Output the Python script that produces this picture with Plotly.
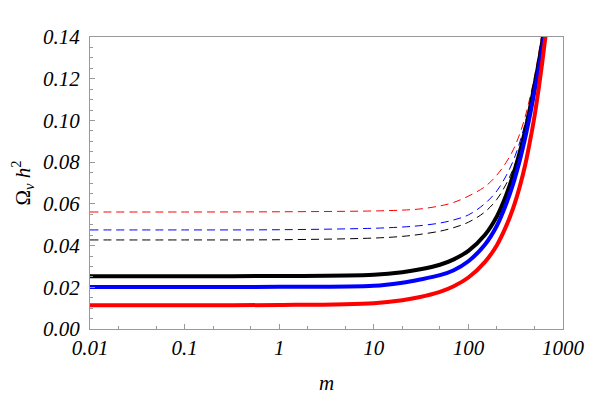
import plotly.graph_objects as go

# m values (log axis) and Omega_nu h^2
m = [0.01, 0.1, 1, 10, 20, 30, 50, 70, 100, 150, 200, 250, 300, 350, 400, 450, 500, 550, 600, 660]

red_solid = [0.0114, 0.0114, 0.0115, 0.0124, 0.0138, 0.0152, 0.0178, 0.0205, 0.0247, 0.0322,
             0.0402, 0.0492, 0.0585, 0.0685, 0.0790, 0.0905, 0.1020, 0.1145, 0.1270, 0.1420]
blue_solid = [0.0201, 0.0201, 0.0202, 0.0207, 0.0222, 0.0236, 0.0258, 0.0282, 0.0325, 0.0405,
              0.0495, 0.0598, 0.0702, 0.0810, 0.0920, 0.1030, 0.1140, 0.1240, 0.1340, 0.1460]
black_solid = [0.0253, 0.0253, 0.0254, 0.0260, 0.0272, 0.0285, 0.0308, 0.0334, 0.0375, 0.0452,
               0.0540, 0.0640, 0.0745, 0.0850, 0.0955, 0.1062, 0.1170, 0.1270, 0.1370, 0.1490]
red_dash = [0.0561, 0.0561, 0.0562, 0.0566, 0.0570, 0.0575, 0.0590, 0.0607, 0.0637, 0.0683,
            0.0738, 0.0798, 0.0862, 0.0937, 0.1020, 0.1115, 0.1210, 0.1315, 0.1420, 0.1550]
blue_dash = [0.0475, 0.0475, 0.0476, 0.0483, 0.0489, 0.0495, 0.0508, 0.0523, 0.0547, 0.0602,
             0.0662, 0.0734, 0.0810, 0.0897, 0.0990, 0.1090, 0.1190, 0.1290, 0.1390, 0.1520]
black_dash = [0.0427, 0.0427, 0.0428, 0.0436, 0.0444, 0.0453, 0.0469, 0.0486, 0.0512, 0.0562,
              0.0622, 0.0694, 0.0772, 0.0857, 0.0950, 0.1050, 0.1150, 0.1255, 0.1360, 0.1490]

x_ticks = [0.01, 0.1, 1, 10, 100, 1000]
x_labels = ["0.01", "0.1", "1", "10", "100", "1000"]
y_ticks = [0, 0.02, 0.04, 0.06, 0.08, 0.10, 0.12, 0.14]

SERIF = "Liberation Serif"

fig = go.Figure()

for ys, col in [(red_dash, "#ff0000"), (blue_dash, "#0000ff"), (black_dash, "#000000")]:
    fig.add_trace(go.Scatter(x=m, y=ys, mode="lines",
                             line=dict(color=col, width=1, dash="8px,5px", shape="spline", smoothing=1)))

for ys, col in [(black_solid, "#000000"), (blue_solid, "#0000ff"), (red_solid, "#ff0000")]:
    fig.add_trace(go.Scatter(x=m, y=ys, mode="lines",
                             line=dict(color=col, width=4, shape="spline", smoothing=1)))

tick_font = dict(family=SERIF, size=21, color="black")

# page body adds an 8px offset, margins compensate for it
fig.update_layout(
    width=599, height=396,
    margin=dict(l=82, r=44, t=29, b=75),
    paper_bgcolor="white", plot_bgcolor="white",
    showlegend=False,
    font=dict(family=SERIF, color="black"),
    xaxis=dict(
        type="log", range=[-2, 3], automargin=False,
        tickvals=x_ticks, ticktext=["<i>%s</i>" % t for t in x_labels],
        tickfont=tick_font,
        ticks="inside", ticklen=5, tickcolor="#999", tickwidth=1,
        minor=dict(ticks="inside", ticklen=3, tickcolor="#999", showgrid=False),
        showgrid=False, zeroline=False,
        showline=True, linecolor="#999", linewidth=1, mirror=True,
        title=dict(text="<i>m</i>", font=dict(family=SERIF, size=21, color="black"), standoff=16),
    ),
    yaxis=dict(
        range=[0, 0.14], automargin=False,
        tickvals=y_ticks,
        ticktext=["<i>%.2f</i>" % v for v in y_ticks],
        tickfont=tick_font, ticklabelstandoff=5,
        ticks="inside", ticklen=5, tickcolor="#999", tickwidth=1,
        minor=dict(dtick=0.005, ticks="inside", ticklen=3, tickcolor="#999", showgrid=False),
        showgrid=False, zeroline=False,
        showline=True, linecolor="#999", linewidth=1, mirror=True,
        title=dict(text="Ω<sub><i>ν</i></sub> <i>h</i><sup>2</sup>",
                   font=dict(family=SERIF, size=21, color="black"), standoff=20),
    ),
)

fig.write_html("out.html")
